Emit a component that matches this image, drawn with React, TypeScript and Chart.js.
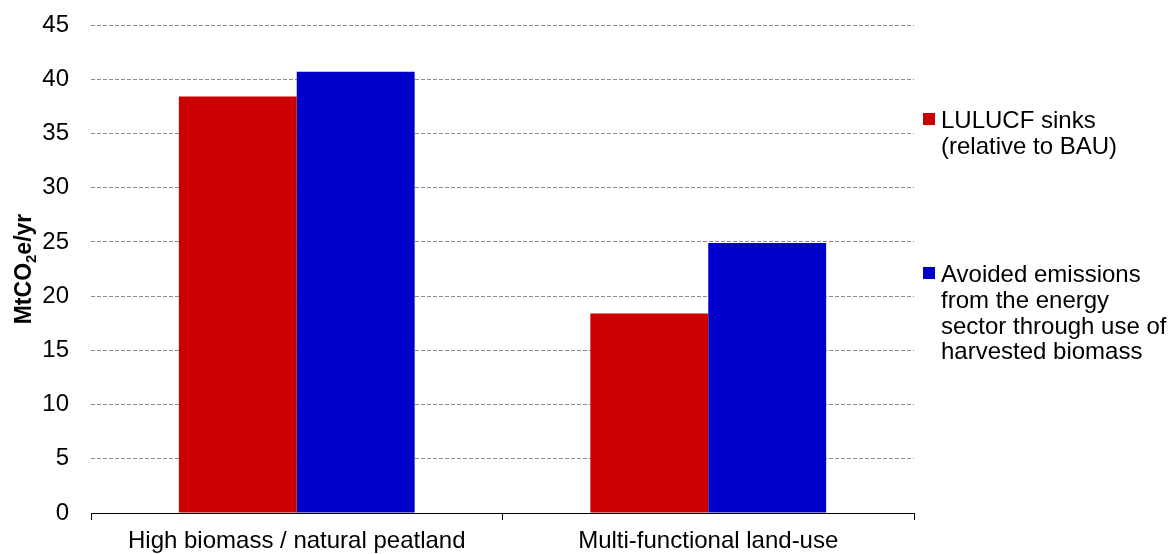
import React, { useEffect, useRef } from "react";
import { Chart, registerables } from "chart.js";

Chart.register(...registerables);

const categories = ["High biomass / natural peatland", "Multi-functional land-use"];
const lulucfSinks = [38.4, 18.4];
const avoidedEmissions = [40.7, 24.9];
const seriesNames = ["LULUCF sinks (relative to BAU)", "Avoided emissions from the energy sector through use of harvested biomass"];
const legendLinesSinks = ["LULUCF sinks", "(relative to BAU)"];
const legendLinesAvoided = ["Avoided emissions", "from the energy", "sector through use of", "harvested biomass"];
const yMin = 0;
const yMax = 45;
const yStep = 5;

const FONT = "'Liberation Sans', Arial, sans-serif";
const RED = "#CC0000";
const BLUE = "#0000CC";

const titlePlugin = {
  id: "yTitleSub",
  afterDraw(chart: any) {
    const { ctx, chartArea } = chart;
    const yc = (chartArea.top + chartArea.bottom) / 2;
    ctx.save();
    ctx.fillStyle = "#000";
    ctx.textBaseline = "alphabetic";
    const big = `bold 23px ${FONT}`;
    const small = `bold 15px ${FONT}`;
    const parts: [string, string, number][] = [
      ["MtCO", big, 0],
      ["2", small, 5],
      ["e/yr", big, 0],
    ];
    let total = 0;
    for (const [t, f] of parts) {
      ctx.font = f;
      total += ctx.measureText(t).width;
    }
    ctx.translate(31, yc);
    ctx.rotate(-Math.PI / 2);
    let u = -total / 2;
    for (const [t, f, dv] of parts) {
      ctx.font = f;
      ctx.textAlign = "left";
      ctx.fillText(t, u, dv);
      u += ctx.measureText(t).width;
    }
    ctx.restore();
  },
};

const legendPlugin = {
  id: "sideLegend",
  afterDraw(chart: any) {
    const { ctx, chartArea } = chart;
    const sqX = chartArea.right + 9;
    const txtX = chartArea.right + 27;
    const lh = 25.8;
    const groups: [string[], string, number][] = [
      [legendLinesSinks, RED, 128],
      [legendLinesAvoided, BLUE, 282],
    ];
    ctx.save();
    ctx.font = `24px ${FONT}`;
    ctx.textBaseline = "alphabetic";
    ctx.textAlign = "left";
    for (const [lines, color, base] of groups) {
      ctx.fillStyle = color;
      ctx.fillRect(sqX, base - 15, 12, 12);
      ctx.fillStyle = "#000";
      lines.forEach((l, i) => ctx.fillText(l, txtX, base + i * lh));
    }
    ctx.restore();
  },
};

export default function App() {
  const ref = useRef<HTMLCanvasElement | null>(null);
  useEffect(() => {
    if (!ref.current) return;
    Chart.defaults.font.family = FONT;
    const chart = new Chart(ref.current, {
      type: "bar",
      data: {
        labels: categories,
        datasets: [
          {
            label: seriesNames[0],
            data: lulucfSinks,
            backgroundColor: RED,
            borderWidth: 0,
            categoryPercentage: 0.573,
            barPercentage: 1,
          },
          {
            label: seriesNames[1],
            data: avoidedEmissions,
            backgroundColor: BLUE,
            borderWidth: 0,
            categoryPercentage: 0.573,
            barPercentage: 1,
          },
        ],
      },
      options: {
        responsive: false,
        animation: false,
        layout: { padding: { left: 0, right: 262, top: 25, bottom: 0 } },
        plugins: {
          legend: { display: false },
          tooltip: { enabled: false },
          title: { display: false },
        },
        scales: {
          x: {
            grid: {
              display: true,
              drawOnChartArea: false,
              drawTicks: true,
              tickLength: 7,
              tickColor: "#000",
              offset: true,
            },
            border: { display: true, color: "#000", width: 1 },
            ticks: {
              color: "#000",
              font: { size: 24, family: FONT },
              padding: 7,
              maxRotation: 0,
              autoSkip: false,
            },
            afterFit: (s: any) => {
              s.height = 41;
            },
          },
          y: {
            min: yMin,
            max: yMax,
            grid: {
              color: "#8c8c8c",
              lineWidth: 1,
              drawTicks: false,
            },
            border: { display: false, dash: [4, 2] },
            ticks: {
              stepSize: yStep,
              color: "#000",
              font: { size: 24, family: FONT },
              padding: 22,
            },
            afterFit: (s: any) => {
              s.width = 91;
              s.paddingTop = 0;
              s.paddingBottom = 0;
            },
          },
        },
      },
      plugins: [titlePlugin, legendPlugin],
    });
    return () => chart.destroy();
  }, []);
  return (
    <div style={{ position: "absolute", left: 0, top: 0, width: 1176, height: 554, background: "#fff" }}>
      <canvas ref={ref} width={1176} height={554} style={{ display: "block" }} />
    </div>
  );
}
